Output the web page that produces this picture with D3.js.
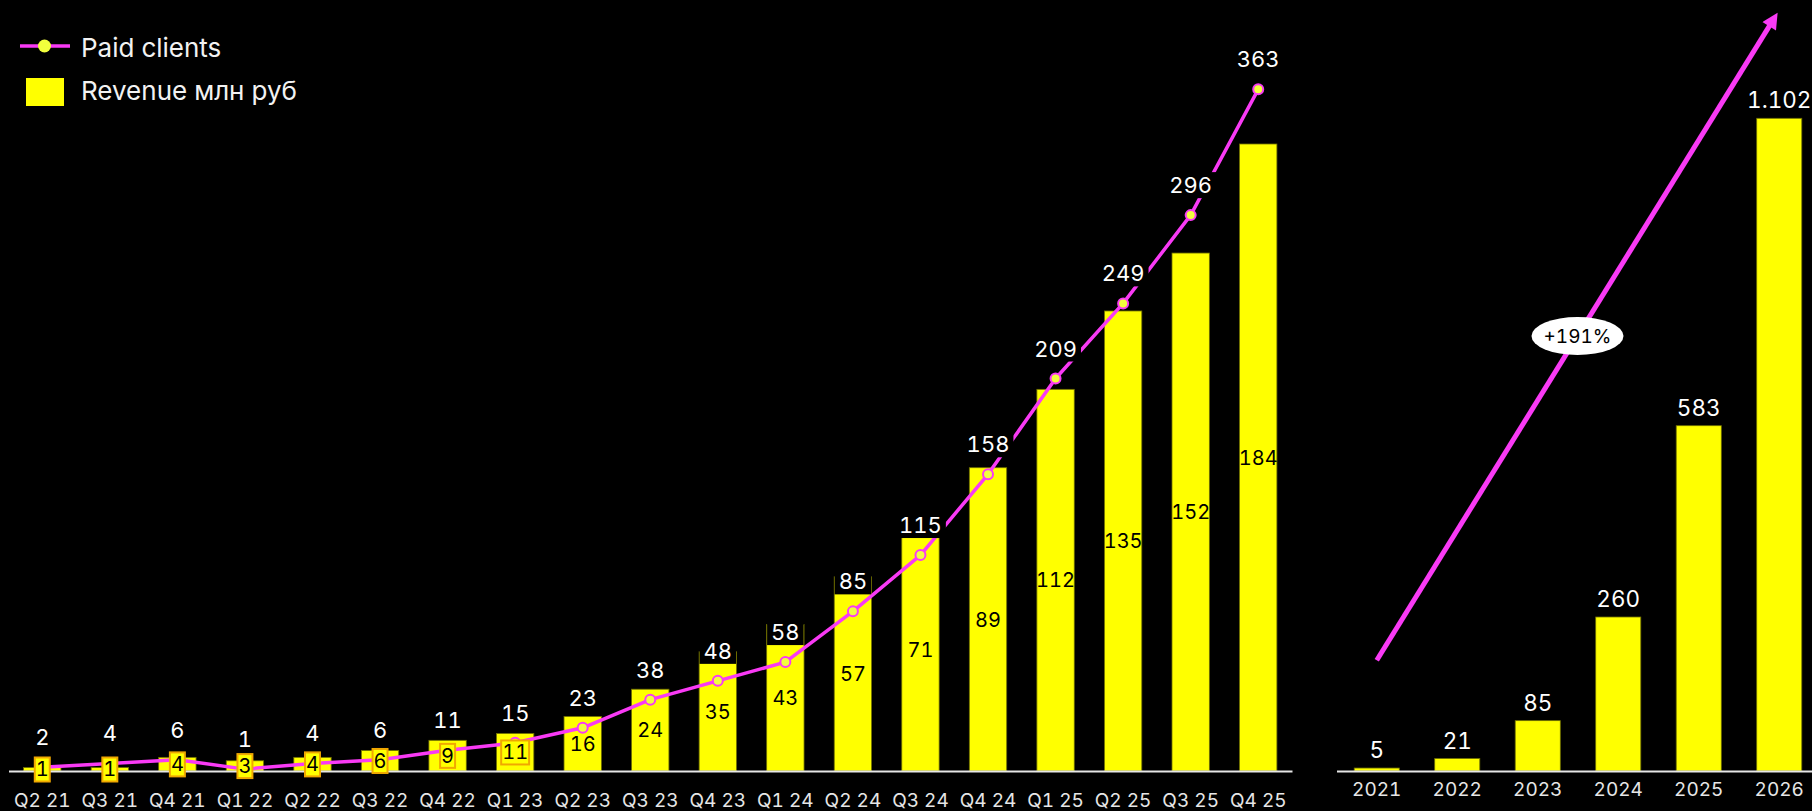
<!DOCTYPE html>
<html>
<head>
<meta charset="utf-8">
<script src="https://cdn.jsdelivr.net/npm/d3@7"></script>
<style>
  body { margin: 0; background: #000; }
  svg { display: block; font-family: Inter, "Noto Sans", sans-serif; font-variant-numeric: tabular-nums; font-feature-settings: "tnum"; }
</style>
</head>
<body>
<script>
// quarterly data
const quarters = ["Q2 21", "Q3 21", "Q4 21", "Q1 22", "Q2 22", "Q3 22", "Q4 22", "Q1 23", "Q2 23",
                  "Q3 23", "Q4 23", "Q1 24", "Q2 24", "Q3 24", "Q4 24", "Q1 25", "Q2 25", "Q3 25", "Q4 25"];
const paidClients = [2, 4, 6, 1, 4, 6, 11, 15, 23, 38, 48, 58, 85, 115, 158, 209, 249, 296, 363];
const revenue = [1, 1, 4, 3, 4, 6, 9, 11, 16, 24, 35, 43, 57, 71, 89, 112, 135, 152, 184];

// yearly data
const years = ["2021", "2022", "2023", "2024", "2025", "2026"];
const yearRevenue = [5, 21, 85, 260, 583, 1102];
const yearLabels = ["5", "21", "85", "260", "583", "1.102"];

// growth arrow annotation (year, value on yearly scale)
const growthFrom = ["2021", 187];
const growthTo = ["2026", 1282];
const growthText = "+191%";

const legendItems = ["Paid clients", "Revenue млн руб"];

const width = 1812;
const height = 811;
const baseY = 771;
const magenta = "#f93af5";
const yellow = "#ffff00";
const dotFill = "#f2ff3d";
const axisColor = "#e6e6e6";

const svg = d3.select("body")
    .append("svg")
    .attr("width", width)
    .attr("height", height);

svg.append("rect").attr("width", width).attr("height", height).attr("fill", "#000");

// ---------- quarterly chart ----------
const x = d3.scaleBand()
    .domain(quarters)
    .range([8.5, 1292])
    .paddingInner(0.447)
    .paddingOuter(0.2235);

const yRev = d3.scaleLinear().domain([0, 184]).range([baseY, 144]);
const yCli = d3.scaleLinear().domain([0, 363]).range([baseY, 89.3]);
const cx = q => x(q) + x.bandwidth() / 2;

// bars
svg.append("g")
    .selectAll("rect")
    .data(quarters)
    .join("rect")
    .attr("x", d => x(d))
    .attr("y", (d, i) => yRev(revenue[i]))
    .attr("width", x.bandwidth())
    .attr("height", (d, i) => baseY - yRev(revenue[i]))
    .attr("fill", yellow)
    .attr("stroke", "#707000")
    .attr("stroke-width", 0.8);

// x axis
svg.append("g")
    .attr("transform", `translate(0,${baseY})`)
    .call(d3.axisBottom(x).tickSize(0).tickSizeOuter(0).tickPadding(23))
    .call(g => {
        g.attr("font-family", null).attr("font-size", 19);
        g.select(".domain").attr("stroke", axisColor).attr("stroke-width", 2);
        g.selectAll("text").attr("fill", axisColor);
    });

// clients line
const line = d3.line()
    .x((d, i) => cx(quarters[i]))
    .y(d => yCli(d));

svg.append("path")
    .datum(paidClients)
    .attr("fill", "none")
    .attr("stroke", magenta)
    .attr("stroke-width", 3.5)
    .attr("stroke-linejoin", "round")
    .attr("d", line);

svg.append("g")
    .selectAll("circle")
    .data(paidClients)
    .join("circle")
    .attr("cx", (d, i) => cx(quarters[i]))
    .attr("cy", d => yCli(d))
    .attr("r", 5)
    .attr("fill", dotFill)
    .attr("stroke", magenta)
    .attr("stroke-width", 2);

// revenue labels inside bars (small bars get a boxed label)
quarters.forEach((q, i) => {
    const g = svg.append("g");
    const t = g.append("text")
        .attr("x", cx(q))
        .attr("y", (yRev(revenue[i]) + baseY) / 2)
        .attr("dy", "0.36em")
        .attr("text-anchor", "middle")
        .attr("font-size", 20)
        .attr("fill", "#000")
        .text(revenue[i]);
    if (revenue[i] <= 11) {
        const b = t.node().getBBox();
        g.insert("rect", "text")
            .attr("x", b.x - 1)
            .attr("y", b.y)
            .attr("width", b.width + 2)
            .attr("height", b.height)
            .attr("fill", yellow)
            .attr("stroke", "#f0a800")
            .attr("stroke-width", 2);
    }
});

// client labels with black background
quarters.forEach((q, i) => {
    const g = svg.append("g");
    const t = g.append("text")
        .attr("x", cx(q))
        .attr("y", yCli(paidClients[i]) - 22)
        .attr("text-anchor", "middle")
        .attr("font-size", 22)
        .attr("fill", "#fff")
        .text(paidClients[i]);
    const b = t.node().getBBox();
    g.insert("rect", "text")
        .attr("x", b.x - 4)
        .attr("y", b.y)
        .attr("width", b.width + 8)
        .attr("height", b.height)
        .attr("fill", "#000");
});

// ---------- yearly chart ----------
const xr = d3.scaleBand()
    .domain(years)
    .range([1336.5, 1819.5])
    .paddingInner(0.44)
    .paddingOuter(0.22);

const yr = d3.scaleLinear().domain([0, 1102]).range([baseY, 118.3]);
const cxr = yv => xr(yv) + xr.bandwidth() / 2;

svg.append("g")
    .selectAll("rect")
    .data(years)
    .join("rect")
    .attr("x", d => xr(d))
    .attr("y", (d, i) => yr(yearRevenue[i]))
    .attr("width", xr.bandwidth())
    .attr("height", (d, i) => baseY - yr(yearRevenue[i]))
    .attr("fill", yellow)
    .attr("stroke", "#707000")
    .attr("stroke-width", 0.8);

svg.append("g")
    .selectAll("text")
    .data(years)
    .join("text")
    .attr("x", d => cxr(d))
    .attr("y", (d, i) => yr(yearRevenue[i]) - 10)
    .attr("text-anchor", "middle")
    .attr("font-size", 22.5)
    .attr("fill", "#fff")
    .text((d, i) => yearLabels[i]);

svg.append("g")
    .attr("transform", `translate(0,${baseY})`)
    .call(d3.axisBottom(xr).tickSize(0).tickSizeOuter(0).tickPadding(12))
    .call(g => {
        g.attr("font-family", null).attr("font-size", 19);
        g.select(".domain").attr("stroke", axisColor).attr("stroke-width", 2);
        g.selectAll("text").attr("fill", axisColor);
    });

// growth arrow
svg.append("defs").append("marker")
    .attr("id", "head")
    .attr("markerUnits", "userSpaceOnUse")
    .attr("viewBox", "0 0 10 10")
    .attr("refX", 2)
    .attr("refY", 5)
    .attr("markerWidth", 18)
    .attr("markerHeight", 16)
    .attr("orient", "auto")
    .append("path")
    .attr("d", "M0,0L10,5L0,10Z")
    .attr("fill", magenta);

const x1 = cxr(growthFrom[0]), y1 = yr(growthFrom[1]);
const x2 = cxr(growthTo[0]) - 1, y2 = yr(growthTo[1]);
const ang = Math.atan2(y2 - y1, x2 - x1);
const headLen = 14;

svg.append("line")
    .attr("x1", x1).attr("y1", y1)
    .attr("x2", x2 - headLen * Math.cos(ang))
    .attr("y2", y2 - headLen * Math.sin(ang))
    .attr("stroke", magenta)
    .attr("stroke-width", 5)
    .attr("marker-end", "url(#head)");

const mx = (x1 + x2) / 2, my = (y1 + y2) / 2;
svg.append("ellipse")
    .attr("cx", mx).attr("cy", my)
    .attr("rx", 46).attr("ry", 19)
    .attr("fill", "#fff");
svg.append("text")
    .attr("x", mx).attr("y", my)
    .attr("dy", "0.36em")
    .attr("text-anchor", "middle")
    .attr("font-size", 19)
    .attr("fill", "#000")
    .text(growthText);

// ---------- legend ----------
const legend = svg.append("g");
legend.append("line")
    .attr("x1", 20).attr("x2", 70).attr("y1", 46).attr("y2", 46)
    .attr("stroke", magenta).attr("stroke-width", 3.5);
legend.append("circle")
    .attr("cx", 44.5).attr("cy", 46).attr("r", 6.5)
    .attr("fill", dotFill);
legend.append("rect")
    .attr("x", 26).attr("y", 78).attr("width", 38).attr("height", 28)
    .attr("fill", yellow);
legend.selectAll("text")
    .data(legendItems)
    .join("text")
    .attr("x", 81)
    .attr("y", (d, i) => 56.5 + i * 43)
    .attr("font-size", 26)
    .attr("fill", "#f2f2f2")
    .text(d => d);
</script>
</body>
</html>
